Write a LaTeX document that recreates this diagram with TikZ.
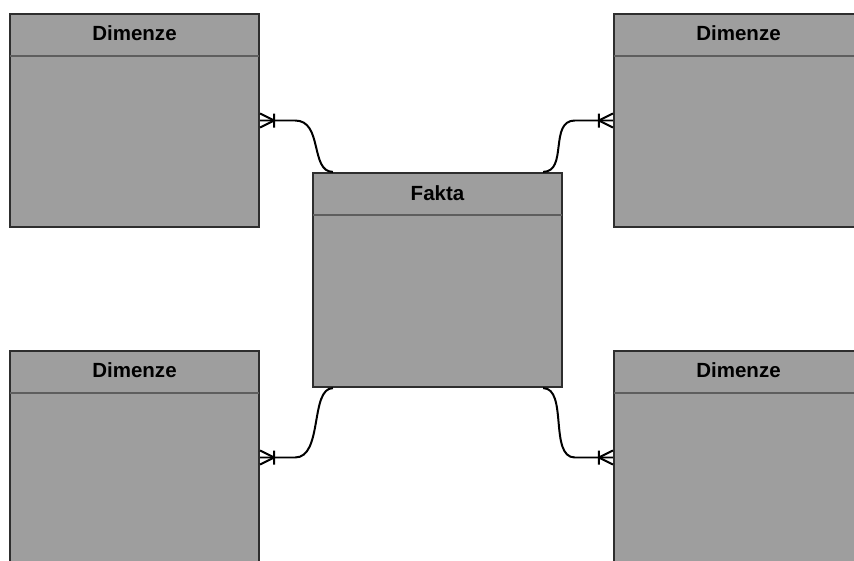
\documentclass[tikz,border=0pt]{standalone}
\usepackage{fontspec}
\setmainfont{Liberation Sans}
\usetikzlibrary{calc}
\definecolor{boxfill}{HTML}{9E9E9E}
\definecolor{boxline}{HTML}{2E2E2E}
\definecolor{hdrline}{HTML}{5E5E5E}
\tikzset{
  entity/.style={rectangle, draw=boxline, fill=boxfill, line width=1.9pt,
    minimum width=7.47cm, minimum height=6.39cm, inner sep=0pt},
  title/.style={font=\fontsize{17.5}{20}\selectfont\bfseries, text=black, inner sep=0pt},
  hdr/.style={draw=hdrline, line width=1.6pt},
  conn/.style={draw=black, line width=1.7pt},
}
\begin{document}
\begin{tikzpicture}[x=0.03cm,y=-0.03cm]
\useasboundingbox (0,0) rectangle (854,561);
\clip (0,0) rectangle (854,561);
\fill[white] (0,0) rectangle (854,561);

% dimension tables and the fact table
\node[entity] (d1) at (134.5,120.5) {};
\node[entity] (d2) at (738.5,120.5) {};
\node[entity] (d3) at (134.5,457.5) {};
\node[entity] (d4) at (738.5,457.5) {};
\node[entity, minimum height=6.42cm] (f) at (437.5,280) {};

% header separators
\foreach \n in {d1,d2,d3,d4,f}
  \draw[hdr] ($(\n.north west)+(1,43)$) -- ($(\n.north east)+(-1,43)$);

% titles
\node[title] (t1) at ($(d1.north)+(0,20)$) {Dimenze};
\node[title] (t2) at ($(d2.north)+(0,20)$) {Dimenze};
\node[title] (t3) at ($(d3.north)+(0,20)$) {Dimenze};
\node[title] (t4) at ($(d4.north)+(0,20)$) {Dimenze};
\node[title] (tf) at ($(f.north)+(0,21)$) {Fakta};

% relationships
\draw[conn] (d1.east) -- ($(d1.east)+(35,0)$)
  .. controls ($(d1.east)+(63,0)$) and ($(f.north west)+(-2,0)$) .. ($(f.north west)+(21,0)$);
\draw[conn] (d2.west) -- ($(d2.west)+(-38,0)$)
  .. controls ($(d2.west)+(-64,0)$) and ($(f.north east)+(5,0)$) .. ($(f.north east)+(-20,0)$);
\draw[conn] (d3.east) -- ($(d3.east)+(35,0)$)
  .. controls ($(d3.east)+(63,0)$) and ($(f.south west)+(-2,0)$) .. ($(f.south west)+(21,0)$);
\draw[conn] (d4.west) -- ($(d4.west)+(-38,0)$)
  .. controls ($(d4.west)+(-64,0)$) and ($(f.south east)+(5,0)$) .. ($(f.south east)+(-20,0)$);

% one-or-many ends
\foreach \n in {d1,d3}
  \draw[conn] ($(\n.east)+(14,0)$) -- ($(\n.east)+(0,-7)$)
              ($(\n.east)+(14,0)$) -- ($(\n.east)+(0,7)$)
              ($(\n.east)+(14,-7)$) -- ($(\n.east)+(14,7)$);
\foreach \n in {d2,d4}
  \draw[conn] ($(\n.west)+(-14,0)$) -- ($(\n.west)+(0,-7)$)
              ($(\n.west)+(-14,0)$) -- ($(\n.west)+(0,7)$)
              ($(\n.west)+(-14,-7)$) -- ($(\n.west)+(-14,7)$);
\end{tikzpicture}
\end{document}
